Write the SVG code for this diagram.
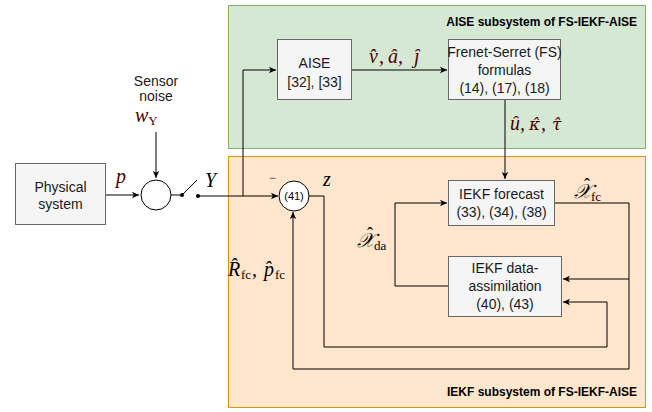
<svg xmlns="http://www.w3.org/2000/svg" width="652" height="412" viewBox="0 0 652 412">
<defs>
<marker id="arr" markerUnits="userSpaceOnUse" markerWidth="8" markerHeight="8" refX="7" refY="4" orient="auto">
<path d="M0,0.8 L7,4 L0,7.2 L1.8,4 Z" fill="#000"/>
</marker>
<style>
.lbl{font-family:"Liberation Sans",Arial,sans-serif;font-size:14px;fill:#1a1a1a;text-anchor:middle}
.ttl{font-family:"Liberation Sans",Arial,sans-serif;font-size:12px;font-weight:bold;fill:#000;text-anchor:end}
.box{fill:#f5f5f5;stroke:#666666;stroke-width:1}
.m{font-family:"Liberation Serif","DejaVu Serif",serif;font-style:italic;font-size:20px}
.g{font-family:"DejaVu Serif",serif;font-size:17px}
.h{font-style:normal;font-size:18px}
.mr{fill:#4d0000}
.mk{fill:#000}
.sub{font-style:normal;font-size:13px}
.ln{fill:none;stroke:#000;stroke-width:1}
.circ{fill:#fff;stroke:#000;stroke-width:1}
</style>
</defs>

<g id="aise-subsystem">
<rect x="228.5" y="5.5" width="417" height="143" fill="#d5e8d4" stroke="#82b366"/>
<text class="ttl" x="637" y="26">AISE subsystem of FS-IEKF-AISE</text>
</g>
<g id="iekf-subsystem">
<rect x="228.5" y="156.5" width="417" height="251" fill="#ffe6cc" stroke="#d79b00"/>
<text class="ttl" x="637" y="396">IEKF subsystem of FS-IEKF-AISE</text>
</g>

<g id="connectors">
<line class="ln" x1="106" y1="195" x2="139" y2="195" marker-end="url(#arr)"/>
<line class="ln" x1="156" y1="132" x2="156" y2="178" marker-end="url(#arr)"/>
<line class="ln" x1="171" y1="195" x2="182" y2="195"/>
<line class="ln" x1="182" y1="195" x2="197" y2="180"/>
<circle cx="182" cy="195" r="2" fill="#000"/>
<circle cx="198" cy="196" r="2" fill="#000"/>
<line class="ln" x1="198" y1="196" x2="278" y2="196" marker-end="url(#arr)"/>
<polyline class="ln" points="243,196 243,70 276,70" marker-end="url(#arr)"/>
<line class="ln" x1="351" y1="70" x2="447" y2="70" marker-end="url(#arr)"/>
<line class="ln" x1="505" y1="99" x2="505" y2="179" marker-end="url(#arr)"/>
<polyline class="ln" points="554,203 629,203 629,369 293,369 293,212" marker-end="url(#arr)"/>
<polyline class="ln" points="629,279 563,279" marker-end="url(#arr)"/>
<polyline class="ln" points="309,196 324,196 324,347 607,347 607,302 563,302" marker-end="url(#arr)"/>
<polyline class="ln" points="448,286 395,286 395,203 447,203" marker-end="url(#arr)"/>
</g>

<g id="physical-system">
<rect class="box" x="15.5" y="163.5" width="90" height="61"/>
<text class="lbl" x="60.5" y="192">Physical</text>
<text class="lbl" x="60.5" y="209">system</text>
</g>

<g id="sensor-noise">
<text class="lbl" x="156" y="86">Sensor</text>
<text class="lbl" x="156" y="101">noise</text>
<text class="m mr" x="135" y="122" font-size="18">w<tspan class="sub" font-style="italic" dy="3">Y</tspan></text>
</g>

<g id="sum">
<circle class="circ" cx="156" cy="195" r="15"/>
</g>

<g id="node41">
<circle class="circ" cx="294" cy="196" r="15"/>
<text x="294" y="200" font-family="Liberation Sans,Arial,sans-serif" font-size="11" text-anchor="middle" fill="#000">(41)</text>
</g>

<g id="aise">
<rect class="box" x="277.5" y="39.5" width="74" height="60"/>
<text class="lbl" x="314.5" y="68">AISE</text>
<text class="lbl" x="314.5" y="87">[32], [33]</text>
</g>

<g id="frenet-serret">
<rect class="box" x="448.5" y="39.5" width="112" height="60"/>
<text class="lbl" x="504.5" y="57">Frenet-Serret (FS)</text>
<text class="lbl" x="504.5" y="75">formulas</text>
<text class="lbl" x="504.5" y="93">(14), (17), (18)</text>
</g>

<g id="iekf-forecast">
<rect class="box" x="448.5" y="180.5" width="106" height="45"/>
<text class="lbl" x="501.5" y="199">IEKF forecast</text>
<text class="lbl" x="501.5" y="217">(33), (34), (38)</text>
</g>

<g id="iekf-da">
<rect class="box" x="448.5" y="256.5" width="113" height="60"/>
<text class="lbl" x="505" y="273">IEKF data-</text>
<text class="lbl" x="505" y="291">assimilation</text>
<text class="lbl" x="505" y="309">(40), (43)</text>
</g>

<g id="labels">
<text class="m mr" x="116" y="183">p</text>
<text class="m mk" x="205" y="187">Y</text>
<text class="m mk" x="323" y="186">z</text>
<text x="269" y="182" font-family="Liberation Sans,Arial,sans-serif" font-size="12" fill="#555">−</text>

<text class="m mr" y="63"><tspan x="369">v̂</tspan><tspan x="379">,</tspan><tspan x="388">â</tspan><tspan x="398">,</tspan><tspan x="414">ĵ</tspan></text>

<text class="m mr" y="130"><tspan x="510">û</tspan><tspan x="520">,</tspan><tspan class="g" x="529">κ̂</tspan><tspan x="541">,</tspan><tspan class="g" x="552">τ̂</tspan></text>

<text class="m mk" font-size="19"><tspan x="574" y="198">𝒳</tspan><tspan class="h" x="584" y="191">ˆ</tspan><tspan class="sub" x="591" y="201">fc</tspan></text>

<text class="m mk" font-size="19"><tspan x="357" y="247">𝒳</tspan><tspan class="h" x="367" y="240">ˆ</tspan><tspan class="sub" x="374" y="250">da</tspan></text>

<text class="m mk" y="276"><tspan x="228">R̂</tspan><tspan class="sub" x="241" dy="3">fc</tspan><tspan x="252" dy="-3">,</tspan><tspan x="264">p̂</tspan><tspan class="sub" x="275" dy="3">fc</tspan></text>
</g>
</svg>
